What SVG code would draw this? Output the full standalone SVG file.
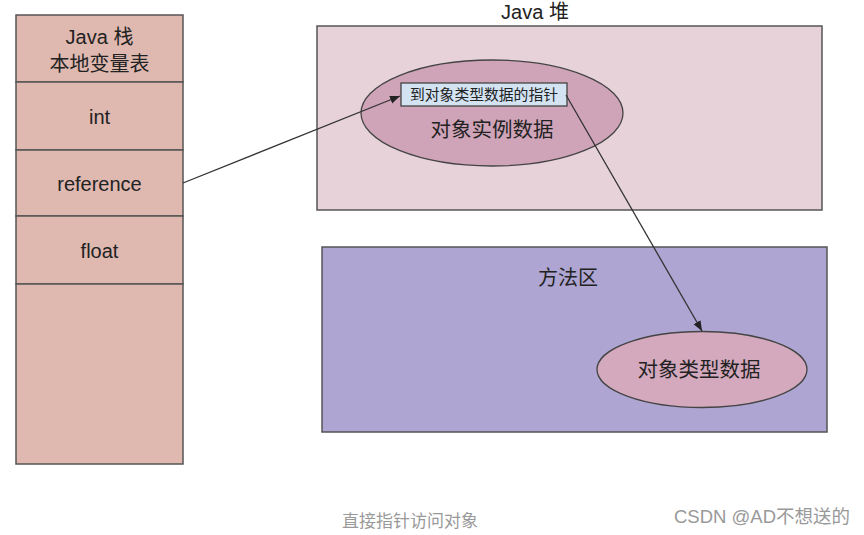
<svg xmlns="http://www.w3.org/2000/svg" width="864" height="535" viewBox="0 0 864 535">
<defs>
<marker id="ah" viewBox="0 0 10 10" refX="10" refY="5" markerWidth="10" markerHeight="10" markerUnits="userSpaceOnUse" orient="auto">
<path d="M0,1 L10,5 L0,9 z" fill="#222"/>
</marker>
</defs>
<style>
text{font-family:"Liberation Sans","Noto Sans CJK SC",sans-serif;fill:#222;text-anchor:middle}
.stk{fill:#dfb8b0;stroke:#555;stroke-width:1.5}
.lbl{font-size:20px}
.big{font-size:20.5px}
.conn{stroke:#333;stroke-width:1.3;fill:none;marker-end:url(#ah)}
.cap{fill:#999;font-size:17px}
</style>
<rect width="864" height="535" fill="#fff"/>
<g id="stack">
<rect class="stk" x="16" y="15" width="167" height="67"/>
<text class="lbl" x="99.5" y="44">Java 栈</text>
<text class="lbl" x="99.5" y="71">本地变量表</text>
<rect class="stk" x="16" y="82" width="167" height="68"/>
<text class="lbl" x="99.5" y="124">int</text>
<rect class="stk" x="16" y="150" width="167" height="66"/>
<text class="lbl" x="99.5" y="191">reference</text>
<rect class="stk" x="16" y="216" width="167" height="68"/>
<text class="lbl" x="99.5" y="258">float</text>
<rect class="stk" x="16" y="284" width="167" height="180"/>
</g>
<g id="heap">
<text class="lbl" x="535" y="19">Java 堆</text>
<rect x="317" y="26" width="505" height="184" fill="#e7d2da" stroke="#555" stroke-width="1.5"/>
</g>
<g id="instance">
<ellipse cx="492" cy="113" rx="131" ry="53" fill="#d0a4b8" stroke="#444" stroke-width="1.3"/>
<text class="big" x="492" y="137">对象实例数据</text>
</g>
<g id="pointer">
<rect x="401" y="83" width="166" height="23" fill="#d3e3f2" stroke="#444" stroke-width="1.3"/>
<text x="484" y="100" style="font-size:14.8px">到对象类型数据的指针</text>
</g>
<g id="method">
<rect x="322" y="247" width="505" height="185" fill="#aea5d2" stroke="#555" stroke-width="1.5"/>
<text class="lbl" x="568" y="285">方法区</text>
</g>
<g id="typedata">
<ellipse cx="702" cy="369.5" rx="105" ry="38" fill="#d4a9bd" stroke="#444" stroke-width="1.3"/>
<text class="big" x="699" y="377">对象类型数据</text>
</g>
<g id="connectors">
<line class="conn" x1="183" y1="183" x2="400" y2="96"/>
<line class="conn" x1="566" y1="95" x2="702" y2="331"/>
</g>
<text class="cap" x="410" y="527">直接指针访问对象</text>
<text x="762" y="523" style="fill:#999;font-size:18.5px">CSDN @AD不想送的</text>
</svg>
